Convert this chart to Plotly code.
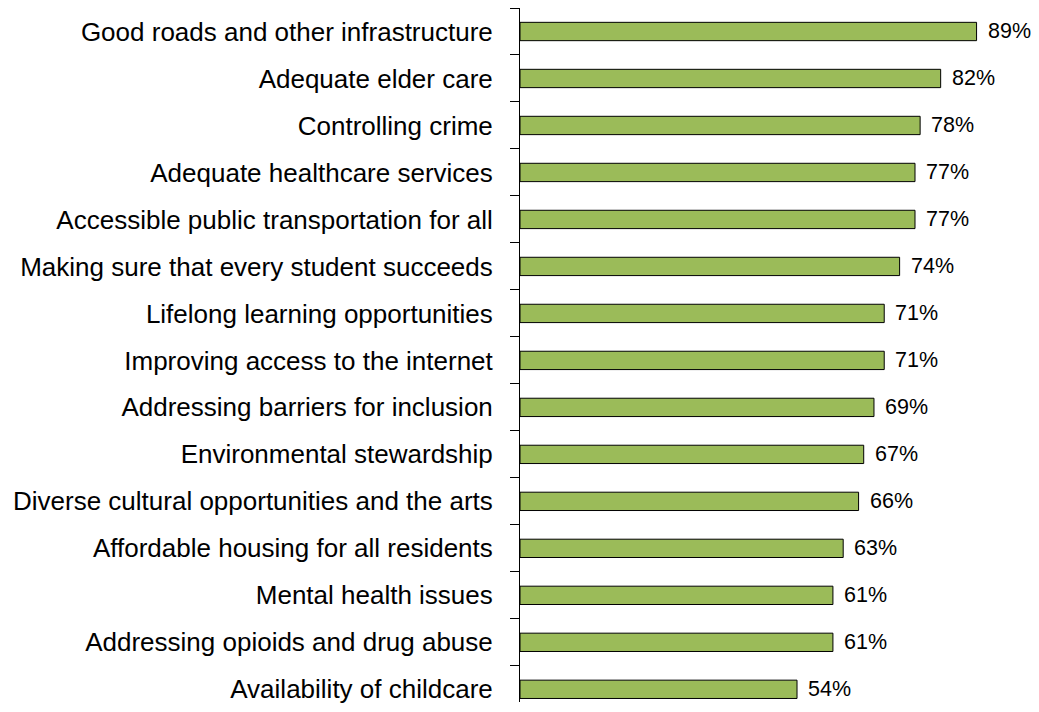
import plotly.graph_objects as go

categories = [
    "Good roads and other infrastructure",
    "Adequate elder care",
    "Controlling crime",
    "Adequate healthcare services",
    "Accessible public transportation for all",
    "Making sure that every student succeeds",
    "Lifelong learning opportunities",
    "Improving access to the internet",
    "Addressing barriers for inclusion",
    "Environmental stewardship",
    "Diverse cultural opportunities and the arts",
    "Affordable housing for all residents",
    "Mental health issues",
    "Addressing opioids and drug abuse",
    "Availability of childcare",
]
values = [89, 82, 78, 77, 77, 74, 71, 71, 69, 67, 66, 63, 61, 61, 54]
labels = [f"{v}%" for v in values]

FONT = "Liberation Sans, Arial, sans-serif"

fig = go.Figure(go.Bar(
    x=values, y=categories, orientation="h",
    marker=dict(color="#9BBB59", line=dict(color="#000000", width=1)),
    width=0.39,
))

for c, v, t in zip(categories, values, labels):
    fig.add_annotation(x=v, y=c, text=t, showarrow=False, xanchor="left",
                       xshift=9, font=dict(family=FONT, size=21.5, color="#000000"))

fig.update_layout(
    width=1031, height=696,
    margin=dict(l=512, r=6, t=0, b=0),
    paper_bgcolor="white", plot_bgcolor="white",
    showlegend=False,
    font=dict(family=FONT, size=26, color="#000000"),
    xaxis=dict(range=[0, 100], visible=False, showgrid=False, zeroline=False),
    yaxis=dict(
        type="category", categoryorder="array", categoryarray=categories,
        range=[14.27, -0.5],
        showline=True, linecolor="#000000", linewidth=1,
        ticks="outside", tickson="boundaries", ticklen=9, tickcolor="#000000",
        ticklabelstandoff=21, showgrid=False, zeroline=False,
        tickfont=dict(family=FONT, size=26, color="#000000"),
    ),
)

fig.write_html("out.html")
